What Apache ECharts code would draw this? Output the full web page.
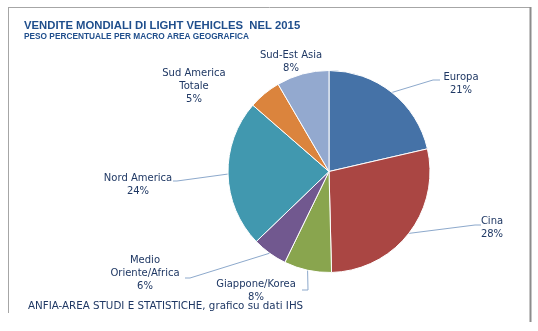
<!DOCTYPE html>
<html>
<head>
<meta charset="utf-8">
<script src="https://cdn.jsdelivr.net/npm/echarts@6/dist/echarts.min.js"></script>
<style>
html,body{margin:0;padding:0;background:#fff;}
#chart{width:538px;height:331px;}
</style>
</head>
<body>
<div id="chart"></div>
<script>
// Data
var categories = ['Europa', 'Cina', 'Giappone/Korea', 'Medio\nOriente/Africa', 'Nord America', 'Sud America\nTotale', 'Sud-Est Asia'];
var shares = [21.4, 28.2, 7.6, 5.6, 23.6, 5.2, 8.4];
var shareLabels = ['21%', '28%', '8%', '6%', '24%', '5%', '8%'];
var colors = ['#4572A7', '#AA4643', '#89A54E', '#71588F', '#4198AF', '#DB843D', '#93A9CF'];

// Label placement (label centre x, top y) and leader-line bends
var labelPos = [
  {x: 461, y: 71, line: [[433, 80], [440, 80]]},
  {x: 492, y: 215, line: [[475, 225], [481, 225]]},
  {x: 256, y: 278, line: [[308, 290], [302, 290]]},
  {x: 145, y: 254, line: [[190, 278], [185, 278]]},
  {x: 138, y: 172, line: [[177, 181], [173, 181]]},
  {x: 194, y: 67, line: null},
  {x: 291, y: 49, line: null}
];

var textColor = '#1F3864';
var font = 'DejaVu Sans';
var titleFont = 'Liberation Sans';

var data = categories.map(function (c, i) {
  return {name: c, value: shares[i], itemStyle: {color: colors[i]}};
});

var chart = echarts.init(document.getElementById('chart'), null, {renderer: 'canvas'});
chart.setOption({
  animation: false,
  backgroundColor: '#fff',
  title: [
    {text: 'VENDITE MONDIALI DI LIGHT VEHICLES  NEL 2015', left: 19, top: 15, padding: 5,
     textStyle: {fontFamily: titleFont, fontSize: 11.3, fontWeight: 'bold', color: '#1F4E8C'}},
    {text: 'PESO PERCENTUALE PER MACRO AREA GEOGRAFICA', left: 19, top: 28, padding: 5,
     textStyle: {fontFamily: titleFont, fontSize: 8.3, fontWeight: 'bold', color: '#1F4E8C'}},
    {text: 'ANFIA-AREA STUDI E STATISTICHE, grafico su dati IHS', left: 23, top: 296, padding: 5,
     textStyle: {fontFamily: font, fontSize: 10.3, fontWeight: 'normal', color: '#1F3864'}}
  ],
  graphic: [
    {type: 'line', shape: {x1: 8.5, y1: 7.5, x2: 8.5, y2: 313}, style: {stroke: '#A6A6A6', lineWidth: 1}},
    {type: 'line', shape: {x1: 8, y1: 7.5, x2: 531, y2: 7.5}, style: {stroke: '#A6A6A6', lineWidth: 1}},
    {type: 'line', shape: {x1: 530.5, y1: 7, x2: 530.5, y2: 322}, style: {stroke: '#8C8C8C', lineWidth: 2}}
  ],
  series: [{
    type: 'pie',
    center: [329, 171.5],
    radius: 101,
    startAngle: 90,
    clockwise: true,
    data: data,
    itemStyle: {borderColor: '#fff', borderWidth: 1},
    label: {
      show: true,
      position: 'outside',
      fontFamily: font,
      fontSize: 10,
      lineHeight: 13,
      color: textColor,
      align: 'center',
      formatter: function (p) { return p.name + '\n' + shareLabels[p.dataIndex]; }
    },
    labelLine: {show: true, length: 10, length2: 10, lineStyle: {color: '#8DA9CC', width: 1}},
    labelLayout: function (params) {
      var lp = labelPos[params.dataIndex];
      var res = {x: lp.x, y: lp.y, align: 'center', verticalAlign: 'top'};
      if (lp.line && params.labelLinePoints) {
        res.labelLinePoints = [params.labelLinePoints[0], lp.line[0], lp.line[1]];
      } else {
        res.labelLinePoints = [[0, 0], [0, 0], [0, 0]];
      }
      return res;
    }
  }]
});
</script>
</body>
</html>
